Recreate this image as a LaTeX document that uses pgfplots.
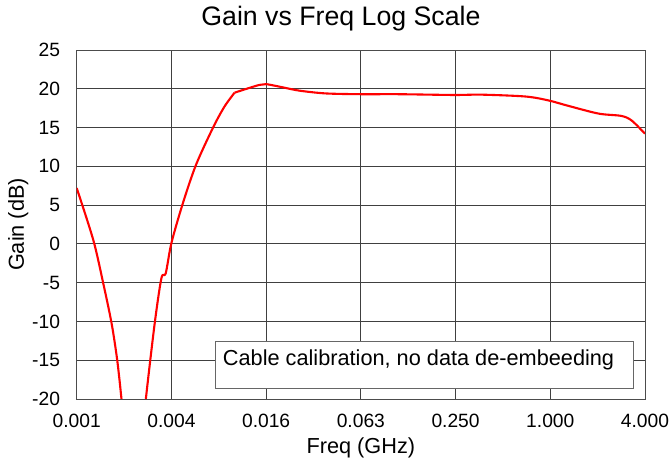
\documentclass[border=0pt]{standalone}
\usepackage{pgfplots}
\pgfplotsset{compat=1.18}
\usepackage{fontspec}
\setmainfont{Liberation Sans}
\begin{document}
\begin{tikzpicture}
\begin{axis}[
  scale only axis,
  width=568.3bp, height=349bp,
  xmode=log,
  xmin=0.0009765625, xmax=4,
  ymin=-20, ymax=25,
  xtick={0.0009765625,0.00390625,0.015625,0.0625,0.25,1,4},
  xticklabels={0.001,0.004,0.016,0.063,0.250,1.000,4.000},
  minor xtick={},
  ytick={-20,-15,-10,-5,0,5,10,15,20,25},
  yticklabels={-20,-15,-10,-5,0,5,10,15,20,25},
  major tick length=0pt,
  grid=major,
  grid style={black!75, line width=0.9bp},
  axis line style={black!70, line width=0.9bp},
  tick label style={font=\fontsize{19.3}{19.3}\selectfont},
  xticklabel style={anchor=north, inner sep=0pt, yshift=-15bp},
  yticklabel style={anchor=east, inner sep=0pt, xshift=-16.5bp},
  xlabel={Freq (GHz)},
  ylabel={Gain (dB)},
  label style={font=\fontsize{21.8}{21.8}\selectfont},
  xlabel style={at={(axis description cs:0.5,0)}, anchor=base, yshift=-54bp, inner sep=0pt},
  ylabel style={at={(axis description cs:-0.093,0.5)}, anchor=base, rotate=0, inner sep=0pt},
  title={Gain vs Freq Log Scale},
  title style={font=\fontsize{26.8}{26.8}\selectfont, at={(axis description cs:0.465,1)}, anchor=base, yshift=18.3bp, inner sep=0pt},
]
\addplot[red, line width=2.1bp, line join=round, smooth, tension=0.5] coordinates {
(0.0009766,7.2)
(0.001245,0.5)
(0.00144,-5.07)
(0.001626,-10.2)
(0.001765,-14.9)
(0.001881,-20)
(0.00205,-28)
(0.00225,-34)
(0.00245,-28)
(0.002687,-20)
(0.003061,-10.2)
(0.003377,-4.4)
(0.003594,-3.8)
(0.003906,0.1)
(0.004613,5.2)
(0.005601,10.2)
(0.007189,15.0)
(0.00849,17.7)
(0.009848,19.5)
};
\addplot[red, line width=2.1bp, line join=round, smooth, tension=0.5] coordinates {
(0.009848,19.5)
(0.01218,20.1)
(0.01418,20.5)
(0.015625,20.6)
(0.01978,20.2)
(0.02538,19.76)
(0.03742,19.4)
(0.0625,19.3)
(0.1088,19.3)
(0.2432,19.2)
(0.3687,19.24)
(0.6976,19.0)
(0.9729,18.5)
(1.301,17.8)
(2.028,16.8)
(2.828,16.5)
(3.294,15.9)
(4.0,14.2)
};
\draw[black!60, line width=0.9bp, fill=white] (rel axis cs:0.2446,0.0307) rectangle (rel axis cs:0.979,0.164);
\node[anchor=base west, inner sep=0pt, font=\fontsize{21.8}{21.8}\selectfont] at (rel axis cs:0.257,0.0974) {Cable calibration, no data de-embeeding};
\end{axis}
\pgfresetboundingbox
\path[use as bounding box] (-76.7bp,-65bp) rectangle (593.3bp,399bp);
\end{tikzpicture}
\end{document}
